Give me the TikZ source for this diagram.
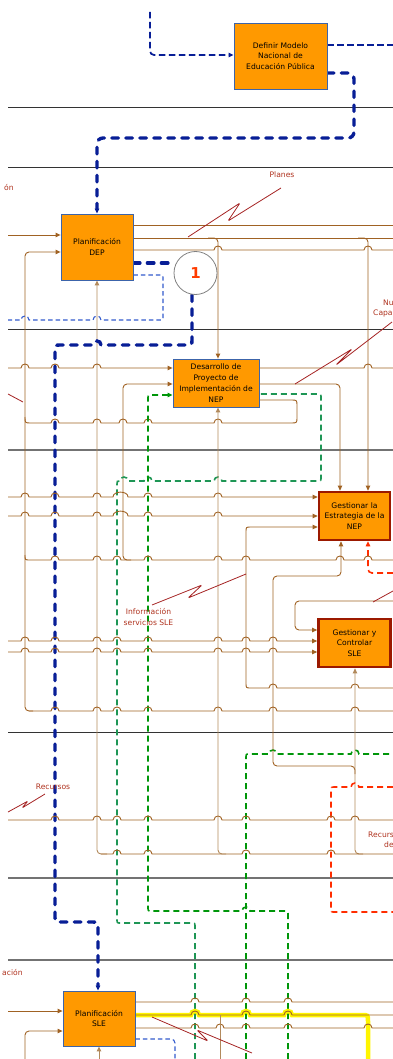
\documentclass[tikz,border=0pt]{standalone}
\usepackage{fontspec}
\setmainfont{DejaVu Sans}
\usetikzlibrary{arrows.meta}
\pgfdeclarelayer{bg}
\pgfsetlayers{bg,main}
\definecolor{brn}{RGB}{160,98,35}
\definecolor{tanc}{RGB}{178,138,92}
\definecolor{navy}{RGB}{8,30,150}
\definecolor{lblue}{RGB}{50,90,205}
\definecolor{grn}{RGB}{0,150,10}
\definecolor{teal1}{RGB}{30,150,85}
\definecolor{redd}{RGB}{255,45,0}
\definecolor{lbl}{RGB}{175,50,30}
\definecolor{sqc}{RGB}{165,35,35}
\definecolor{orng}{RGB}{255,153,0}
\definecolor{bbord}{RGB}{60,100,170}
\definecolor{gbord}{RGB}{155,25,0}
\definecolor{yel}{RGB}{255,245,0}
\definecolor{onec}{RGB}{255,60,0}
\newcommand\hr[2]{foreach \hx in {#2} {-- (\hx-4,#1) .. controls (\hx-4,#1-5.3) and (\hx+4,#1-5.3) .. (\hx+4,#1)}}
\newcommand\hl[2]{foreach \hx in {#2} {-- (\hx+4,#1) .. controls (\hx+4,#1-5.3) and (\hx-4,#1-5.3) .. (\hx-4,#1)}}
\begin{document}
\begin{tikzpicture}[x=1pt,y=-1pt,
  bl/.style={brn, line width=0.9pt},
  tl/.style={tanc, line width=0.9pt},
  arr/.style={-{Triangle[length=5pt,width=4.4pt]}},
  navyT/.style={navy, line width=3.4pt, dash pattern=on 6.5pt off 7.5pt, line cap=round},
  navyM/.style={navy, line width=1.7pt, dash pattern=on 6.5pt off 3.5pt},
  lb/.style={lblue, line width=1.1pt, dash pattern=on 4.5pt off 3pt},
  gd/.style={grn, line width=1.6pt, dash pattern=on 6pt off 4pt},
  td/.style={teal1, line width=1.6pt, dash pattern=on 6pt off 4pt},
  rd/.style={redd, line width=1.6pt, dash pattern=on 6pt off 4pt},
  sep/.style={line width=0.9pt, black!80},
  sepg/.style={line width=1.1pt, black!55},
  box/.style={draw=bbord, fill=orng, line width=0.8pt, align=center, font=\fontsize{7.6}{10.8}\selectfont, inner sep=1pt},
  gbox/.style={box, draw=gbord, line width=2.6pt},
  lab/.style={text=lbl, font=\fontsize{7.6}{11}\selectfont, inner sep=0pt},
  sq/.style={sqc, line width=0.8pt, rounded corners=1.2pt}]
\useasboundingbox (0,0) rectangle (393,1059);

% boxes
\node[box, minimum width=93pt, minimum height=66pt] (defn) at (280.5,56) {Definir Modelo\\Nacional de\\Educación Pública};
\node[box, minimum width=72pt, minimum height=66pt] (dep) at (97,247) {Planificación\\DEP};
\node[box, minimum width=86pt, minimum height=48pt] (desa) at (216,383) {Desarrollo de\\Proyecto de\\Implementación de\\NEP};
\node[gbox, minimum width=71pt, minimum height=48pt] (gest) at (354.5,516) {Gestionar la\\Estrategia de la\\NEP};
\node[gbox, minimum width=72pt, minimum height=48pt] (gyc) at (354.5,643) {Gestionar y\\Controlar\\SLE};
\node[box, minimum width=72pt, minimum height=55pt] (psle) at (99,1018.5) {Planificación\\SLE};
\node[circle, draw=black!50, fill=white, line width=0.8pt, minimum size=43pt, inner sep=0pt] (circ) at (195.5,273) {\fontsize{15}{15}\selectfont\bfseries\color{onec}1};

% labels
\node[lab] (planes) at (282,175) {Planes};
\node[lab, anchor=west] (on) at (4,188) {ón};
\node[lab, anchor=west] (nu) at (383,303) {Nu};
\node[lab, anchor=west] (capa) at (373,313) {Capa};
\node[lab, align=center] (info) at (148.5,617) {Información\\servicios SLE};
\node[lab] (recu) at (53,787) {Recursos};
\node[lab, anchor=west] (recs) at (368,835) {Recurs};
\node[lab, anchor=west] (de) at (384,845) {de};
\node[lab, anchor=west] (acion) at (2,973) {ación};

\begin{pgfonlayer}{bg}
% swimlane separators
\foreach \yy in {107,167,329,732} \draw[sep] (8,\yy) -- (393,\yy);
\foreach \yy in {450,878,960} \draw[sepg] (8,\yy) -- (393,\yy);

% top
\draw[navyM, arr, rounded corners=4pt] (150,12) -- (150,55) -- (defn.west|-0,55);
\draw[navyM] (defn.east|-0,45) -- (393,45);
\draw[navyT, arr, rounded corners=6pt] (defn.east|-0,73) -- (354,73) -- (354,138) -- (dep.north|-0,138) -- (dep.north);

% DEP
\draw[bl, arr] (8,235) -- (dep.west|-0,235);
\draw[bl, arr, rounded corners=4pt] (33,711) -- (25,711) -- (25,252) -- (dep.west|-0,252);
\draw[bl] (dep.east|-0,225) -- (393,225);
\draw[bl] (dep.east|-0,238) -- (393,238);
\draw[bl] (dep.east|-0,250) \hr{250}{218,368} -- (393,250);
\draw[bl, arr, rounded corners=4pt] (208,238) -- (218,238) -- (desa.north-|218,0);
\draw[bl, arr, rounded corners=4pt] (358,238) -- (368,238) -- (gest.north-|368,0);
\draw[tl, arr, rounded corners=4pt] (107,854) -- (97,854) -- (dep.south);

% circle 1
\draw[navyT] (dep.east|-0,263) -- (circ.west|-0,263);
\draw[navyT, arr] (circ.south-|192,0) -- (192,339) .. controls (192,345) .. (186,345) \hl{345}{97} -- (61,345) .. controls (55,345) .. (55,351) -- (55,916) .. controls (55,922) .. (61,922) -- (92,922) .. controls (98,922) .. (98,928) -- (psle.north-|98,0);
\draw[lb] (dep.east|-0,275) -- (159,275) .. controls (163,275) .. (163,279) -- (163,316) .. controls (163,320) .. (159,320) \hl{320}{97,25} -- (8,320);

% Desarrollo
\draw[bl, arr] (8,368) \hr{368}{25,55,97} -- (desa.west|-0,368);
\draw[bl] (desa.east|-0,368) \hr{368}{368} -- (393,368);
\draw[bl, arr, rounded corners=4pt] (desa.east|-0,384) -- (340,384) -- (gest.north-|340,0);
\draw[bl, arr, rounded corners=4pt] (131,560) -- (123,560) -- (123,384) -- (desa.west|-0,384);
\draw[bl] (25,417) .. controls (25,423) .. (31,423) \hr{423}{55,97,123,148,218} -- (291,423) .. controls (297,423) .. (297,417) -- (297,406) .. controls (297,400) .. (291,400) -- (desa.east|-0,400);
\draw[td] (195,1059) -- (195,927) .. controls (195,923) .. (191,923) -- (121,923) .. controls (117,923) .. (117,919) -- (117,484) .. controls (117,481) .. (120,481) \hr{481}{124,148,218} -- (317,481) .. controls (321,481) .. (321,477) -- (321,398) .. controls (321,394) .. (317,394) -- (desa.east|-0,394);
\draw[gd, arr] (288,1059) -- (288,915) .. controls (288,911) .. (284,911) \hl{911}{246} -- (152,911) .. controls (148,911) .. (148,907) -- (148,399) .. controls (148,395) .. (152,395) -- (desa.west|-0,395);
\draw[gd] (246,1059) -- (246,758) .. controls (246,754) .. (250,754) \hr{754}{273,355} -- (393,754);

% Gestionar la Estrategia
\draw[bl, arr] (8,497) \hr{497}{25,55,97} -- (113,497) .. controls (113,490.5) and (128,490.5) .. (128,497) \hr{497}{148,218} -- (gest.west|-0,497);
\draw[bl, arr] (8,516) \hr{516}{25,55,97} -- (113,516) .. controls (113,509.5) and (128,509.5) .. (128,516) \hr{516}{148,218} -- (gest.west|-0,516);
\draw[bl, arr] (393,688) \hl{688}{355,273} -- (251,688) .. controls (246,688) .. (246,683) -- (246,532) .. controls (246,527) .. (251,527) -- (gest.west|-0,527);
\draw[rd, arr, rounded corners=4pt] (393,573) -- (368,573) -- (gest.south-|368,0);
\draw[bl] (25,555) .. controls (25,560) .. (30,560) \hr{560}{55,97,117,148,218,246,340,368} -- (393,560);
\draw[bl, arr, rounded corners=4pt] (355,774) -- (355,766) -- (273,766) -- (273,576) -- (341,576) -- (gest.south-|341,0);

% Gestionar y Controlar
\draw[bl, arr, rounded corners=4pt] (393,601) -- (295,601) -- (295,630) -- (gyc.west|-0,630);
\draw[bl, arr] (8,641) \hr{641}{25,55,97,117,148,218,246,273} -- (gyc.west|-0,641);
\draw[bl, arr] (8,652) \hr{652}{25,55,97,117,148,218,246,273} -- (gyc.west|-0,652);
\draw[tl, arr, rounded corners=4pt] (363,854) -- (355,854) -- (gyc.south-|355,0);

% lower lanes
\draw[bl] (29,711) \hr{711}{55,97,117,148,218,273,355} -- (393,711);
\draw[rd] (393,787) \hl{787}{355} -- (335,787) .. controls (331,787) .. (331,791) -- (331,908) .. controls (331,912) .. (335,912) -- (393,912);
\draw[bl] (8,820) \hr{820}{55,97,117,148,218,246,331,355} -- (393,820);
\draw[bl] (101,854) \hr{854}{117,148,246,331} -- (393,854);
\draw[tl, arr, rounded corners=4pt] (226,854) -- (218,854) -- (desa.south-|218,0);

% Planificacion SLE
\draw[bl, arr] (8,1011) -- (psle.west|-0,1011);
\draw[bl, arr, rounded corners=4pt] (25,1059) -- (25,1031) -- (psle.west|-0,1031);
\draw[tl, arr] (psle.south|-0,1059) -- (psle.south);
\draw[yel, line width=4.5pt] (psle.east|-0,1015) \hr{1015}{195,246,288} -- (362,1015) .. controls (368,1015) .. (368,1021) -- (368,1059);
\draw[bl] (psle.east|-0,1002) \hr{1002}{195,246,288} -- (393,1002);
\draw[bl] (psle.east|-0,1015) \hr{1015}{195,246,288} -- (393,1015);
\draw[bl] (psle.east|-0,1028) \hr{1028}{195,220,246,288,368} -- (393,1028);
\draw[tl] (220,1015) -- (220,1059);
\draw[lb, rounded corners=4pt] (psle.east|-0,1039) -- (175,1039) -- (175,1059);

% callout squiggles
\draw[sq] (281,188) -- (228,221) -- (240,203) -- (188,237);
\draw[sq] (392,322) -- (336,365) -- (352,349) -- (295,384);
\draw[sq] (8,394) -- (23,402);
\draw[sq] (246,574) -- (188,598) -- (202,585) -- (152,605);
\draw[sq] (45,794) -- (22,808) -- (28,801) -- (8,812);
\draw[sq] (373,602) -- (393,591);
\draw[sq] (152,1017) -- (208,1041) -- (197,1030) -- (252,1053);
\end{pgfonlayer}
\end{tikzpicture}
\end{document}
